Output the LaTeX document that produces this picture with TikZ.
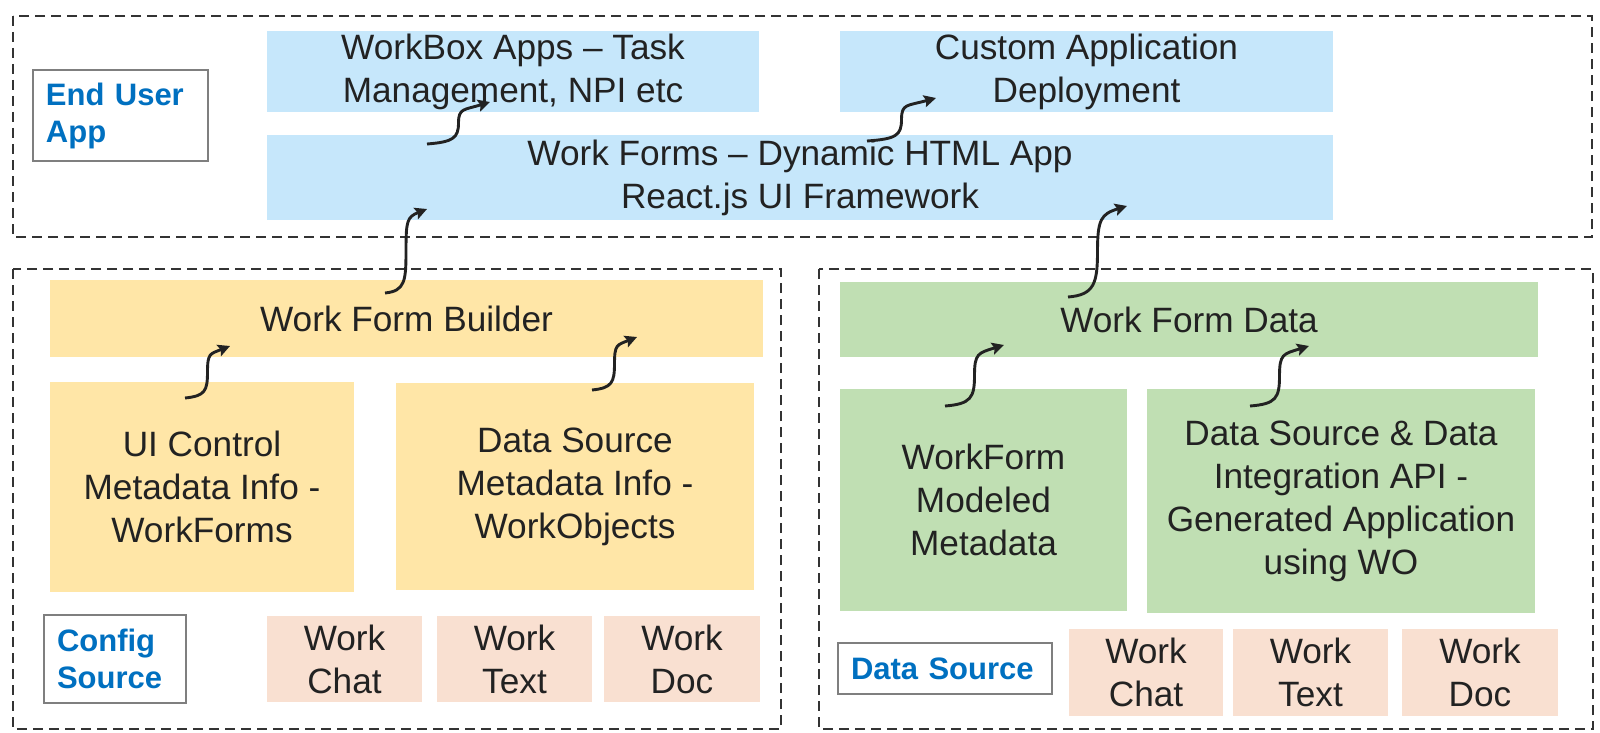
\documentclass[tikz,border=0pt]{standalone}
\usepackage{fontspec}
\setmainfont{Liberation Sans}
\usetikzlibrary{arrows.meta,calc}
\definecolor{fblue}{HTML}{C6E7FB}
\definecolor{fyellow}{HTML}{FFE6A7}
\definecolor{fgreen}{HTML}{C0DFB3}
\definecolor{fpeach}{HTML}{F9E0D1}
\definecolor{tblue}{HTML}{0070C0}
\definecolor{txt}{HTML}{222222}
\definecolor{dgray}{HTML}{333333}
\definecolor{lgray}{HTML}{7F7F7F}
\newcommand\flowarrow[4]{%
  \draw[flow] (#1) .. controls +(#3,-2) and +(0,#4) .. ($(#1)!0.5!(#2)$)
    .. controls +(0,-#4) and +(-#3,8) .. (#2);}
\begin{document}
\begin{tikzpicture}[x=0.5pt,y=-0.5pt,
  box/.style={rectangle, inner sep=0pt, align=center, text=txt,
    font=\fontsize{17.6pt}{21.5pt}\selectfont},
  bluebox/.style={box, fill=fblue},
  yelbox/.style={box, fill=fyellow},
  grnbox/.style={box, fill=fgreen},
  pchbox/.style={box, fill=fpeach, minimum height=43pt},
  lbl/.style={rectangle, draw=lgray, line width=0.6pt, fill=white, align=left,
    text=tblue, inner ysep=0pt, inner xsep=6.5pt,
    font=\bfseries\fontsize{15.5pt}{18.5pt}\selectfont},
  group/.style={draw=dgray, line width=1.4pt, dash pattern=on 5pt off 3pt},
  flow/.style={-{Stealth[length=6pt,width=6pt,inset=1pt]}, line width=1.45pt, draw=txt}]
\useasboundingbox (0,0) rectangle (1600,733);
\fill[white] (0,0) rectangle (1600,733);

% group frames
\draw[group] (13,16) rectangle (1592,237);
\draw[group] (13,269) rectangle (781,729);
\draw[group] (819,269) rectangle (1593,729);

% top group
\node[lbl, text width=74.5pt, minimum height=45.5pt] (eua) at (120.5,115.5) {End User\\App};
\node[bluebox, minimum width=246pt, minimum height=40.5pt] (wbx) at (513,71.5) {WorkBox Apps -- Task\\Management, NPI etc};
\node[bluebox, minimum width=246.5pt, minimum height=40.5pt] (cad) at (1086.5,71.5) {Custom Application\\Deployment};
\node[bluebox, minimum width=533pt, minimum height=42.5pt] (wfa) at (800,177.5) {Work Forms -- Dynamic HTML App\\React.js UI Framework};

% config source group
\node[yelbox, minimum width=356.5pt, minimum height=38.5pt] (wfb) at (406.5,318.5) {Work Form Builder};
\node[yelbox, minimum width=152pt, minimum height=105pt] (uic) at (202,487) {UI Control\\Metadata Info -\\WorkForms};
\node[yelbox, minimum width=179pt, minimum height=103.5pt] (dsm) at (575,486.5) {Data Source\\Metadata Info -\\WorkObjects};
\node[lbl, text width=58pt, minimum height=44pt] (cfg) at (115,659) {Config\\Source};
\node[pchbox, minimum width=77.5pt] (wc1) at (344.5,659) {Work\\Chat};
\node[pchbox, minimum width=77.5pt] (wt1) at (514.5,659) {Work\\Text};
\node[pchbox, minimum width=78pt] (wd1) at (682,659) {Work\\Doc};

% data source group
\node[grnbox, minimum width=349pt, minimum height=37.5pt] (wfd) at (1189,319.5) {Work Form Data};
\node[grnbox, minimum width=143.5pt, minimum height=111pt] (wmm) at (983.5,500) {WorkForm\\Modeled\\Metadata};
\node[grnbox, minimum width=194pt, minimum height=112pt] (dsi) at (1341,501) {Data Source \& Data\\Integration API -\\Generated Application\\using WO};
\node[lbl, text width=94pt, minimum height=25.5pt] (dsl) at (945,668.5) {Data Source};
\node[pchbox, minimum width=77pt, minimum height=43.5pt] (wc2) at (1146,672.5) {Work\\Chat};
\node[pchbox, minimum width=77.5pt, minimum height=43.5pt] (wt2) at (1310.5,672.5) {Work\\Text};
\node[pchbox, minimum width=78pt, minimum height=43.5pt] (wd2) at (1480,672.5) {Work\\Doc};

% connector end points
\coordinate (s1) at (427,144);  \coordinate (t1) at (490,102);
\coordinate (s2) at (867,141);  \coordinate (t2) at (936,98);
\coordinate (s3) at (385,293);  \coordinate (t3) at (427,209);
\coordinate (s4) at (185,398);  \coordinate (t4) at (230,346);
\coordinate (s5) at (592,390);  \coordinate (t5) at (637,337);
\coordinate (s6) at (1068,297); \coordinate (t6) at (1127,206);
\coordinate (s7) at (945,406);  \coordinate (t7) at (1004,345);
\coordinate (s8) at (1250,406); \coordinate (t8) at (1309,346);

\flowarrow{s1}{t1}{26}{15}
\flowarrow{s2}{t2}{29}{16}
\flowarrow{s3}{t3}{20}{30}
\flowarrow{s4}{t4}{20}{19}
\flowarrow{s5}{t5}{20}{19}
\flowarrow{s6}{t6}{26}{32}
\flowarrow{s7}{t7}{26}{22}
\flowarrow{s8}{t8}{26}{22}
\end{tikzpicture}
\end{document}
